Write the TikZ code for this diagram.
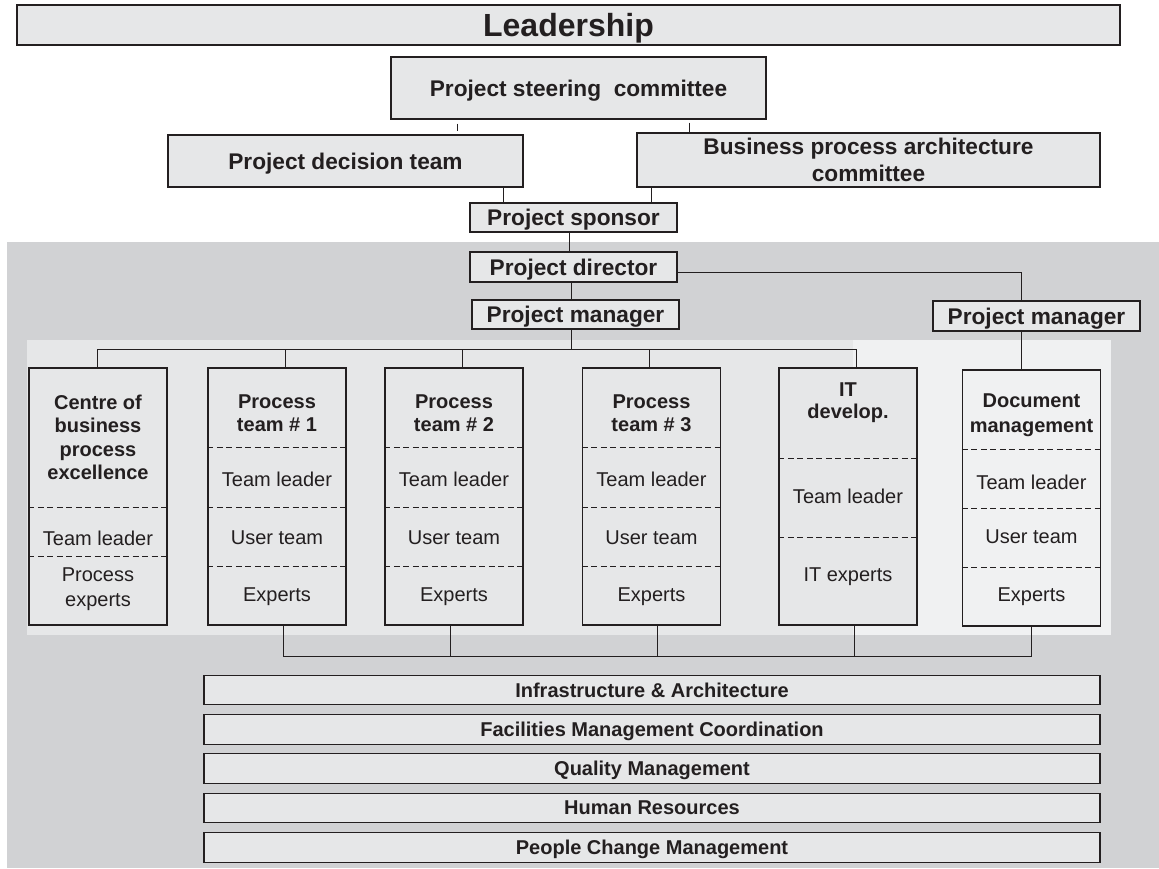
\documentclass[tikz,border=0pt]{standalone}
\usepackage{fontspec}
\setmainfont{Liberation Sans}
\definecolor{ink}{HTML}{231F20}
\definecolor{boxfill}{HTML}{E6E7E8}
\definecolor{graybg}{HTML}{D1D2D4}
\definecolor{panelA}{HTML}{E6E7E8}
\definecolor{panelB}{HTML}{F0F1F2}
\begin{document}
\begin{tikzpicture}[x=0.75pt,y=-0.75pt,
  box/.style={draw=ink, line width=0.8pt, fill=boxfill, inner sep=0pt, text=ink},
  mainbox/.style={box, font=\fontsize{17}{20.5}\selectfont\bfseries, align=center},
  onebox/.style={mainbox, text depth=0pt},
  barbox/.style={box, font=\fontsize{15}{18}\selectfont\bfseries, minimum width=672pt, minimum height=22pt, text depth=0pt},
  teambox/.style={box, minimum width=103.5pt, minimum height=192.75pt},
  ttl/.style={font=\fontsize{15}{17.5}\selectfont\bfseries, align=center, inner sep=0pt, text=ink},
  sub/.style={font=\fontsize{15}{18.5}\selectfont, align=center, inner sep=0pt, text=ink},
  conn/.style={draw=ink, line width=0.75pt},
  sepline/.style={draw=ink, line width=0.6pt, dash pattern=on 4.5pt off 2.6pt}
]
\useasboundingbox (0,0) rectangle (1159,868);
% backgrounds
\fill[white] (0,0) rectangle (1159,868);
\fill[graybg] (7,242) rectangle (1159,868);
\fill[panelA] (27,340) rectangle (853,635);
\fill[panelB] (853,340) rectangle (1111,635);

% top hierarchy
\node[box, font=\fontsize{24}{28}\selectfont\bfseries, text depth=0pt, minimum width=827.25pt, minimum height=30pt] (lead) at (568.5,25) {Leadership};
\node[onebox, minimum width=281.25pt, minimum height=46.5pt] (steer) at (578.5,88) {Project steering~ committee};
\node[onebox, minimum width=266.25pt, minimum height=39pt] (dec) at (345.5,161) {Project decision team};
\node[mainbox, minimum width=347.25pt, minimum height=40.5pt] (bpa) at (868.5,160) {Business process architecture\\committee};
\node[onebox, minimum width=155.25pt, minimum height=21.75pt] (spons) at (573.5,217.5) {Project sponsor};
\node[onebox, minimum width=155.25pt, minimum height=22.5pt] (dir) at (573.5,267) {Project director};
\node[onebox, minimum width=155.25pt, minimum height=21.75pt] (pm1) at (575.5,314.5) {Project manager};
\node[onebox, minimum width=155.25pt, minimum height=22.5pt] (pm2) at (1036.5,316) {Project manager};

\draw[conn, shorten <=3pt, shorten >=2.25pt] (457,0 |- steer.south) -- (457,0 |- dec.north);
\draw[conn, shorten <=2.25pt] (689,0 |- steer.south) -- (689,0 |- bpa.north);
\draw[conn] (503,0 |- dec.south) -- (503,0 |- spons.north);
\draw[conn] (651,0 |- bpa.south) -- (651,0 |- spons.north);
\draw[conn] (569,0 |- spons.south) -- (569,0 |- dir.north);
\draw[conn] (571,0 |- dir.south) -- (571,0 |- pm1.north);
\draw[conn] (dir.east |- 0,272) -| (1021,0 |- pm2.north);

% team boxes
\node[teambox] (cen) at (98,496.5) {};
\node[teambox] (pt1) at (277,496.5) {};
\node[teambox] (pt2) at (454,496.5) {};
\node[teambox] (pt3) at (651.5,496.5) {};
\node[teambox] (itd) at (848,496.5) {};
\node[teambox, fill=panelB, minimum height=192pt] (doc) at (1031.5,498) {};

% connectors to team boxes
\coordinate (bus) at (571,349);
\draw[conn] (571,0 |- pm1.south) -- (bus);
\draw[conn] (97,0 |- cen.north) -- (97,349) -- (856,349) -- (856,0 |- itd.north);
\draw[conn] (285,349) -- (285,0 |- pt1.north);
\draw[conn] (462,349) -- (462,0 |- pt2.north);
\draw[conn] (649,349) -- (649,0 |- pt3.north);
\draw[conn] (1021,0 |- pm2.south) -- (1021,0 |- doc.north);

% bottom connectors
\coordinate (lbus) at (283,656);
\draw[conn] (283,0 |- pt1.south) -- (lbus) -- (1031,656) -- (1031,0 |- doc.south);
\draw[conn] (450.5,0 |- pt2.south) -- (450.5,656);
\draw[conn] (657,0 |- pt3.south) -- (657,656);
\draw[conn] (854,0 |- itd.south) -- (854,656);

% Centre box content
\node[ttl] (cenT) at (98,437.5) {Centre of\\business\\process\\excellence};
\draw[sepline] (cen.west |- 0,507) -- (cen.east |- 0,507);
\node[sub] (cenL) at (98,538) {Team leader};
\draw[sepline] (cen.west |- 0,556) -- (cen.east |- 0,556);
\node[sub, font=\fontsize{15}{18.7}\selectfont] (cenE) at (98,589.5) {Process\\experts};

% process teams
\foreach \n/\k in {pt1/1, pt2/2, pt3/3}{
  \node[ttl] (\n T) at (\n.center |- 0,413.5) {Process\\team \# \k};
  \draw[sepline] (\n.west |- 0,447) -- (\n.east |- 0,447);
  \node[sub] (\n L) at (\n.center |- 0,479) {Team leader};
  \draw[sepline] (\n.west |- 0,507) -- (\n.east |- 0,507);
  \node[sub] (\n U) at (\n.center |- 0,538) {User team};
  \draw[sepline] (\n.west |- 0,566) -- (\n.east |- 0,566);
  \node[sub] (\n E) at (\n.center |- 0,597) {Experts};
}

% IT
\node[ttl, font=\fontsize{15}{16.5}\selectfont\bfseries] (itT) at (848,402.5) {IT\\develop.};
\draw[sepline] (itd.west |- 0,458) -- (itd.east |- 0,458);
\node[sub] (itL) at (848,496) {Team leader};
\draw[sepline] (itd.west |- 0,537) -- (itd.east |- 0,537);
\node[sub] (itE) at (848,577) {IT experts};

% Document management
\node[ttl, font=\fontsize{15}{18.5}\selectfont\bfseries] (docT) at (1031.5,415.5) {Document\\management};
\draw[sepline] (doc.west |- 0,449) -- (doc.east |- 0,449);
\node[sub] (docL) at (1031.5,482) {Team leader};
\draw[sepline] (doc.west |- 0,508) -- (doc.east |- 0,508);
\node[sub] (docU) at (1031.5,537) {User team};
\draw[sepline] (doc.west |- 0,567) -- (doc.east |- 0,567);
\node[sub] (docE) at (1031.5,597) {Experts};

% bottom bars
\node[barbox] (b1) at (652,690) {Infrastructure \& Architecture};
\node[barbox] (b2) at (652,729.5) {Facilities Management Coordination};
\node[barbox] (b3) at (652,768.5) {Quality Management};
\node[barbox] (b4) at (652,808) {Human Resources};
\node[barbox] (b5) at (652,847.5) {People Change Management};
\end{tikzpicture}
\end{document}
